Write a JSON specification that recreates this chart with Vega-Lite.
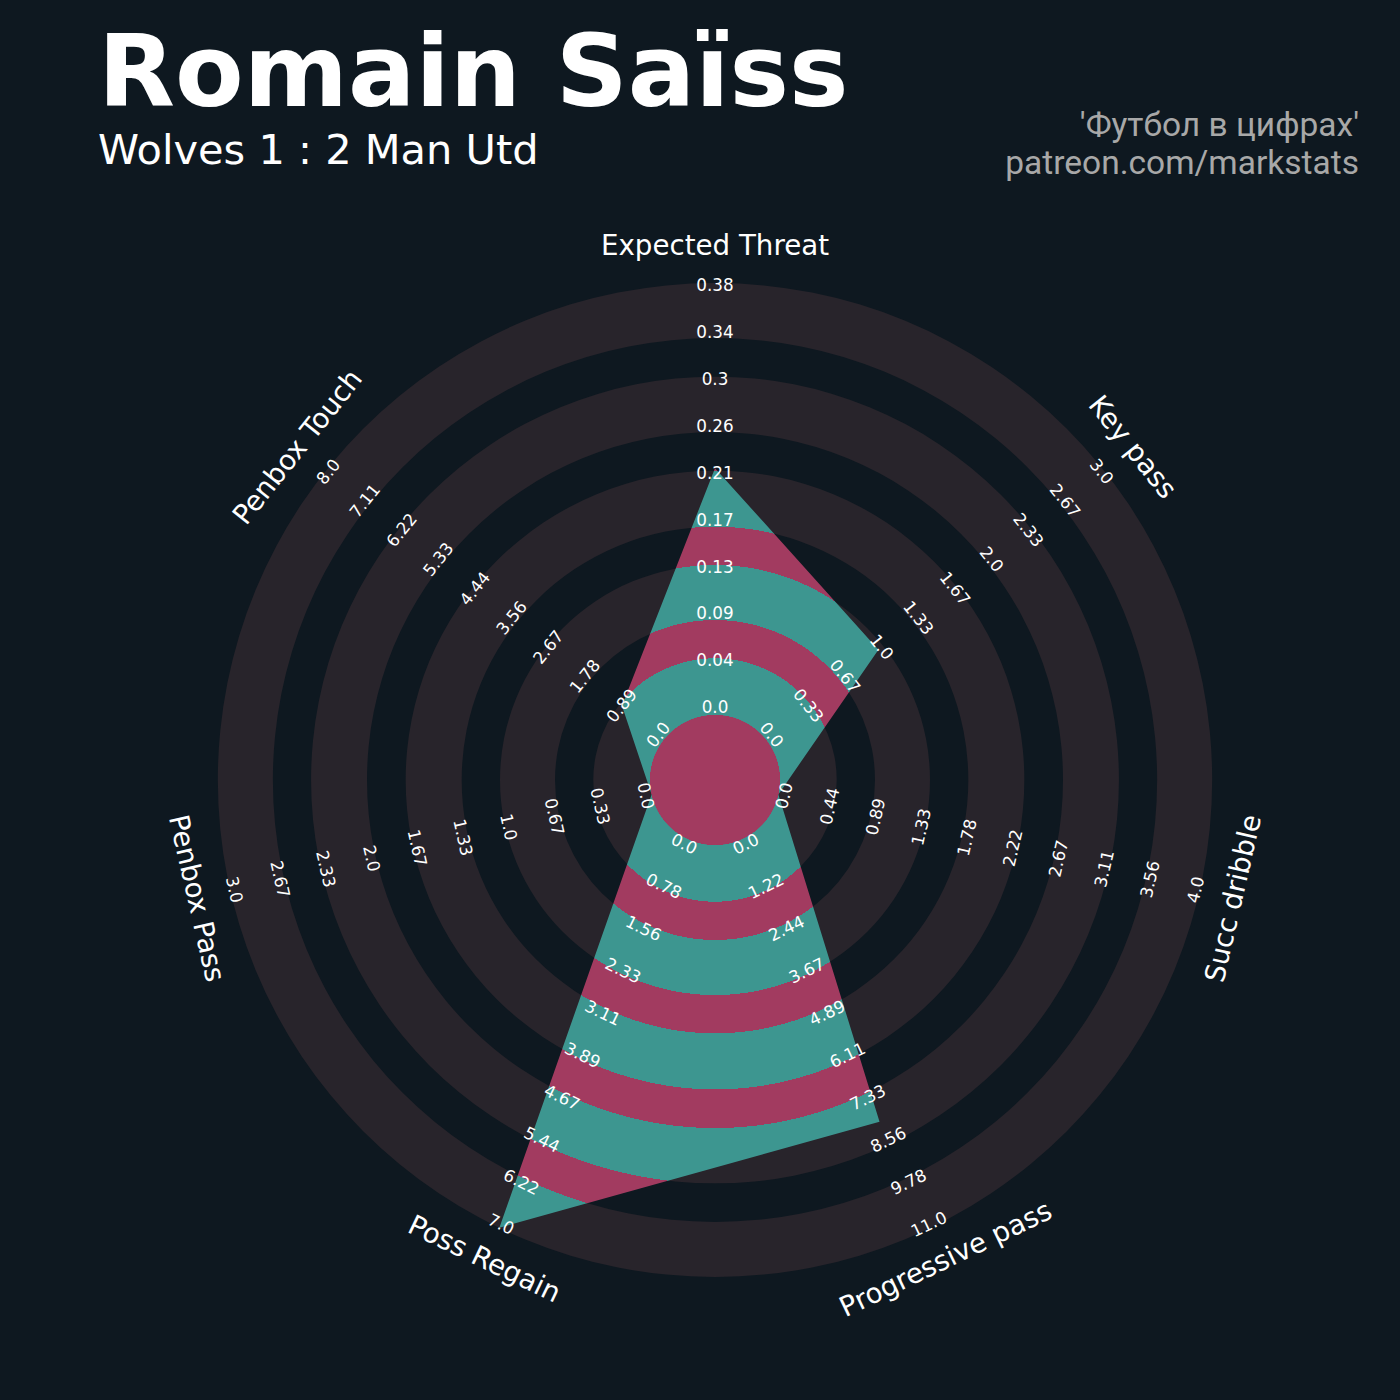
{
  "$schema": "https://vega.github.io/schema/vega-lite/v6.json",
  "width": 994,
  "height": 994,
  "autosize": "none",
  "padding": {"left": 218, "top": 283, "right": 188, "bottom": 123},
  "background": "#0e1820",
  "config": {"view": {"stroke": null}},
  "title": {
    "text": "Romain Saïss",
    "subtitle": "Wolves 1 : 2 Man Utd",
    "anchor": "start",
    "frame": "group",
    "orient": "top",
    "offset": -65,
    "dx": -120,
    "font": "DejaVu Sans",
    "fontSize": 100,
    "fontWeight": "bold",
    "color": "#ffffff",
    "subtitleFont": "DejaVu Sans",
    "subtitleFontSize": 41.5,
    "subtitleColor": "#ffffff",
    "subtitlePadding": 4
  },
  "datasets": {
    "params": [
      {"i": 0, "p": "Expected Threat", "v": 0.22, "max": 0.385, "t": ["0.0", "0.04", "0.09", "0.13", "0.17", "0.21", "0.26", "0.3", "0.34", "0.38"]},
      {"i": 1, "p": "Key pass", "v": 1, "max": 3, "t": ["0.0", "0.33", "0.67", "1.0", "1.33", "1.67", "2.0", "2.33", "2.67", "3.0"]},
      {"i": 2, "p": "Succ dribble", "v": 0, "max": 4, "t": ["0.0", "0.44", "0.89", "1.33", "1.78", "2.22", "2.67", "3.11", "3.56", "4.0"]},
      {"i": 3, "p": "Progressive pass", "v": 8, "max": 11, "t": ["0.0", "1.22", "2.44", "3.67", "4.89", "6.11", "7.33", "8.56", "9.78", "11.0"]},
      {"i": 4, "p": "Poss Regain", "v": 7, "max": 7, "t": ["0.0", "0.78", "1.56", "2.33", "3.11", "3.89", "4.67", "5.44", "6.22", "7.0"]},
      {"i": 5, "p": "Penbox Pass", "v": 0, "max": 3, "t": ["0.0", "0.33", "0.67", "1.0", "1.33", "1.67", "2.0", "2.33", "2.67", "3.0"]},
      {"i": 6, "p": "Penbox Touch", "v": 1, "max": 8, "t": ["0.0", "0.89", "1.78", "2.67", "3.56", "4.44", "5.33", "6.22", "7.11", "8.0"]}
    ],
    "rings": [
      {"r1": 0.1308, "r2": 0.2449},
      {"r1": 0.3219, "r2": 0.4326},
      {"r1": 0.5097, "r2": 0.6224},
      {"r1": 0.7002, "r2": 0.8115},
      {"r1": 0.8893, "r2": 1}
    ],
    "path": [
      {"s": 0, "i": 0}, {"s": 1, "i": 1}, {"s": 2, "i": 2}, {"s": 3, "i": 3},
      {"s": 4, "i": 4}, {"s": 5, "i": 5}, {"s": 6, "i": 6}, {"s": 7, "i": 0},
      {"s": 8, "edge": 270}, {"s": 9, "i": 0}, {"s": 10, "edge": 90}, {"s": 11, "i": 0},
      {"s": 12, "edge": 0}, {"s": 13, "i": 0}, {"s": 14, "edge": 180}, {"s": 15, "i": 0}
    ]
  },
  "layer": [
    {
      "data": {"name": "rings"},
      "mark": {"type": "arc", "theta": 0, "theta2": 6.283185307179586, "color": "#28242b"},
      "encoding": {
        "radius": {"field": "r2", "type": "quantitative", "scale": {"type": "linear", "domain": [0, 1], "zero": true, "nice": false}},
        "radius2": {"field": "r1"}
      }
    },
    {
      "data": {"name": "path"},
      "transform": [
        {"lookup": "i", "from": {"data": {"name": "params"}, "key": "i", "fields": ["v", "max"]}},
        {"calculate": "isValid(datum.edge) ? datum.edge : datum.i * 360 / 7", "as": "deg"},
        {"calculate": "isValid(datum.edge) ? 1 : 0.1308 + 0.8692 * datum.v / datum.max", "as": "r"},
        {"calculate": "datum.r * sin(datum.deg * PI / 180)", "as": "px"},
        {"calculate": "datum.r * cos(datum.deg * PI / 180)", "as": "py"}
      ],
      "mark": {
        "type": "line",
        "interpolate": "linear",
        "stroke": "transparent",
        "strokeWidth": 0,
        "fill": {
          "gradient": "radial",
          "x1": 0.5, "y1": 0.5, "r1": 0,
          "x2": 0.5, "y2": 0.5, "r2": 0.5,
          "stops": [
            {"offset": 0, "color": "#a23b60"},
            {"offset": 0.1308, "color": "#a23b60"},
            {"offset": 0.1308, "color": "#3d9690"},
            {"offset": 0.2449, "color": "#3d9690"},
            {"offset": 0.2449, "color": "#a23b60"},
            {"offset": 0.3219, "color": "#a23b60"},
            {"offset": 0.3219, "color": "#3d9690"},
            {"offset": 0.4326, "color": "#3d9690"},
            {"offset": 0.4326, "color": "#a23b60"},
            {"offset": 0.5097, "color": "#a23b60"},
            {"offset": 0.5097, "color": "#3d9690"},
            {"offset": 0.6224, "color": "#3d9690"},
            {"offset": 0.6224, "color": "#a23b60"},
            {"offset": 0.7002, "color": "#a23b60"},
            {"offset": 0.7002, "color": "#3d9690"},
            {"offset": 0.8115, "color": "#3d9690"},
            {"offset": 0.8115, "color": "#a23b60"},
            {"offset": 0.8893, "color": "#a23b60"},
            {"offset": 0.8893, "color": "#3d9690"},
            {"offset": 1, "color": "#3d9690"}
          ]
        }
      },
      "encoding": {
        "x": {"field": "px", "type": "quantitative", "scale": {"domain": [-1, 1], "nice": false, "zero": false}, "axis": null},
        "y": {"field": "py", "type": "quantitative", "scale": {"domain": [-1, 1], "nice": false, "zero": false}, "axis": null},
        "order": {"field": "s", "type": "quantitative"}
      }
    },
    {
      "data": {"values": [{}]},
      "mark": {"type": "arc", "theta": 0, "theta2": 6.283185307179586, "color": "#a23b60"},
      "encoding": {
        "radius": {"datum": 0.1308, "type": "quantitative"}
      }
    },
    {
      "data": {"name": "params"},
      "transform": [
        {"flatten": ["t"]},
        {"window": [{"op": "row_number", "as": "n"}], "groupby": ["i"]},
        {"calculate": "datum.i * 360 / 7", "as": "deg"},
        {"calculate": "0.1443 + 0.09437 * (datum.n - 1)", "as": "r"},
        {"calculate": "datum.r * sin(datum.deg * PI / 180)", "as": "px"},
        {"calculate": "datum.r * cos(datum.deg * PI / 180)", "as": "py"},
        {"calculate": "datum.deg > 90 && datum.deg < 270 ? datum.deg - 180 : datum.deg", "as": "rot"}
      ],
      "mark": {"type": "text", "font": "DejaVu Sans", "fontSize": 16.8, "color": "#ffffff", "align": "center", "baseline": "middle"},
      "encoding": {
        "x": {"field": "px", "type": "quantitative", "scale": {"domain": [-1, 1], "nice": false, "zero": false}, "axis": null},
        "y": {"field": "py", "type": "quantitative", "scale": {"domain": [-1, 1], "nice": false, "zero": false}, "axis": null},
        "text": {"field": "t"},
        "angle": {"field": "rot", "type": "quantitative", "scale": null}
      }
    },
    {
      "data": {"name": "params"},
      "transform": [
        {"calculate": "datum.i * 360 / 7", "as": "deg"},
        {"calculate": "datum.deg > 90 && datum.deg < 270 ? datum.deg - 180 : datum.deg", "as": "rot"},
        {"calculate": "1.072 * sin(datum.deg * PI / 180)", "as": "px"},
        {"calculate": "1.072 * cos(datum.deg * PI / 180)", "as": "py"}
      ],
      "mark": {"type": "text", "font": "DejaVu Sans", "fontSize": 27.7, "color": "#ffffff", "align": "center", "baseline": "middle"},
      "encoding": {
        "x": {"field": "px", "type": "quantitative", "scale": {"domain": [-1, 1], "nice": false, "zero": false}, "axis": null},
        "y": {"field": "py", "type": "quantitative", "scale": {"domain": [-1, 1], "nice": false, "zero": false}, "axis": null},
        "text": {"field": "p"},
        "angle": {"field": "rot", "type": "quantitative", "scale": null}
      }
    },
    {
      "data": {"values": [{}]},
      "mark": {"type": "text", "font": "Roboto", "fontSize": 33.5, "color": "#a8a8a8", "align": "right", "baseline": "alphabetic", "lineHeight": 38},
      "encoding": {
        "x": {"datum": 1.2958, "type": "quantitative", "scale": {"domain": [-1, 1], "nice": false, "zero": false}, "axis": null},
        "y": {"datum": 1.2958, "type": "quantitative", "scale": {"domain": [-1, 1], "nice": false, "zero": false}, "axis": null},
        "text": {"value": ["'Футбол в цифрах'", "patreon.com/markstats"]}
      }
    }
  ]
}
